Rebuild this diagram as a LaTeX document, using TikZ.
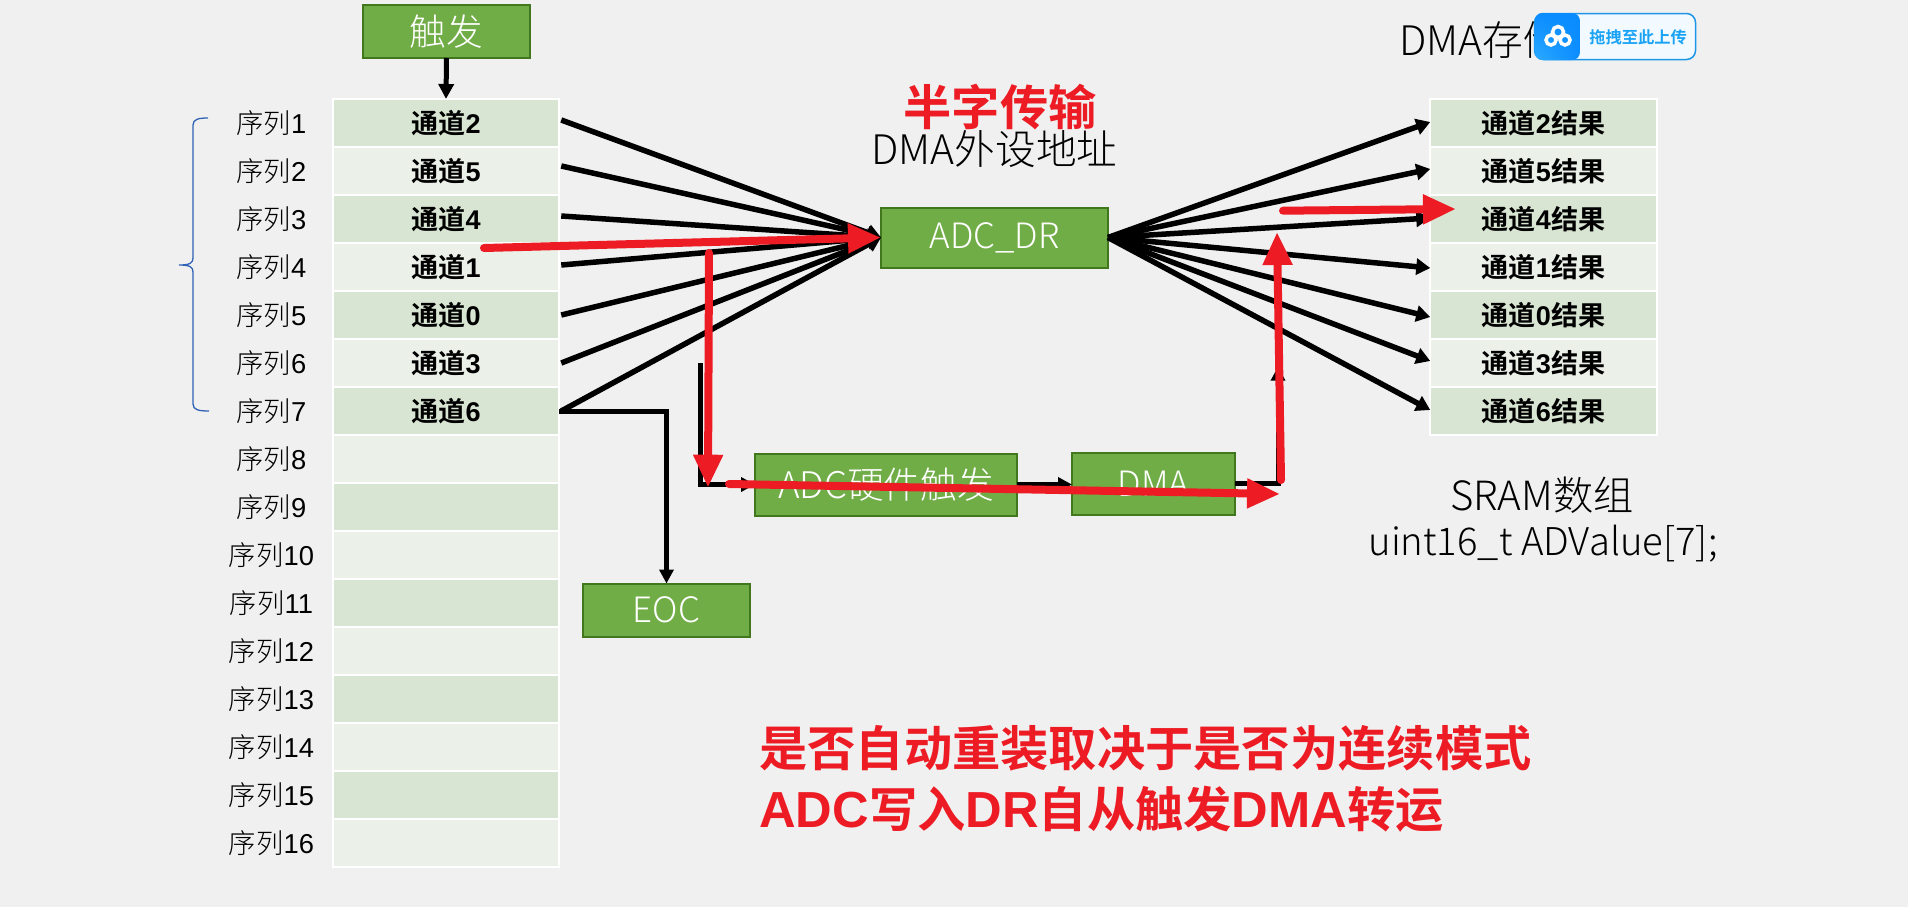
\documentclass[tikz,border=0pt]{standalone}
\usepackage{fontspec}
\usetikzlibrary{arrows.meta,shadings}
\setmainfont{Noto Sans CJK SC Light}
\newfontfamily\boldf{Noto Sans CJK SC Bold}
\newfontfamily\arialb{Liberation Sans Bold}
\newfontfamily\ariall{Liberation Sans}
\newfontfamily\latb[Scale=1.05]{Liberation Sans Bold}
\def\px{0.75pt}
\definecolor{bgc}{HTML}{F0F0F0}
\definecolor{cella}{HTML}{D9E5D3}
\definecolor{cellb}{HTML}{EBF0E9}
\definecolor{greenf}{HTML}{70AD47}
\definecolor{greend}{HTML}{41781E}
\definecolor{redc}{HTML}{ED1C24}
\definecolor{bracec}{HTML}{2F62B5}
\definecolor{btnl}{HTML}{1E96E8}
\definecolor{btnt}{HTML}{1AA3F5}
\definecolor{btnf}{HTML}{F3FAFF}
\definecolor{icona}{HTML}{2CAAFF}
\definecolor{iconb}{HTML}{0A8CFF}
\tikzset{
  cellbox/.style={draw=white,line width=2*\px,minimum width=226.5*\px,minimum height=48.05*\px,inner sep=0pt,outer sep=0pt,font=\fontsize{20.3pt}{24pt}\selectfont},
  seqlabel/.style={inner sep=0pt,font=\fontsize{20.5pt}{24pt}\selectfont},
  greenbox/.style={draw=greend,fill=greenf,line width=2*\px,inner sep=0pt,outer sep=0pt,text=white,font=\fontsize{26.2pt}{30pt}\selectfont},
  bigtext/.style={inner sep=0pt,font=\fontsize{30.5pt}{36pt}\selectfont},
  redtext/.style={inner sep=0pt,text=redc,font=\fontsize{36.2pt}{44pt}\selectfont\boldf},
  fan/.style={line width=5.5*\px,-{Triangle[length=14*\px,width=16*\px]}},
  elbow/.style={line width=5*\px,-{Triangle[length=14*\px,width=14*\px]},line join=miter},
  redarrow/.style={draw=redc,line width=8*\px,line cap=round,-{Triangle[length=33*\px,width=28*\px]}},
}
\newcommand{\bcell}[2]{{\boldf #1}{\arialb #2}}
\newcommand{\lowr}[1]{\raisebox{-2pt}{#1}}
\begin{document}
\begin{tikzpicture}[x=\px,y=-\px]
\useasboundingbox (0,0) rectangle (1908,907);
\fill[bgc] (0,0) rectangle (1908,907);
% left table
\foreach \i/\n in {1/2,2/5,3/4,4/1,5/0,6/3,7/6,8/,9/,10/,11/,12/,13/,14/,15/,16/}{
  \pgfmathtruncatemacro{\odd}{mod(\i,2)}
  \ifnum\odd=1 \def\fc{cella}\else \def\fc{cellb}\fi
  \ifx\n\empty
    \node[cellbox,fill=\fc] (c\i) at (446,{99+(\i-0.5)*48}) {};
  \else
    \node[cellbox,fill=\fc] (c\i) at (446,{99+(\i-0.5)*48}) {\bcell{通道}{\n}};
  \fi
  \node[seqlabel] (s\i) at (271.5,{99+(\i-0.5)*48}) {序列{\ariall\i}};
}
% right table
\foreach \i/\n in {1/2,2/5,3/4,4/1,5/0,6/3,7/6}{
  \pgfmathtruncatemacro{\odd}{mod(\i,2)}
  \ifnum\odd=1 \def\fc{cella}\else \def\fc{cellb}\fi
  \node[cellbox,fill=\fc] (r\i) at (1543.5,{99+(\i-0.5)*48}) {{\boldf 通道}{\arialb\n}{\boldf 结果}};
}
% boxes
\node[greenbox,minimum width=167*\px,minimum height=53*\px,font=\fontsize{27.5pt}{30pt}\selectfont] (trig) at (446.5,31.5) {\lowr{触发}};
\node[greenbox,minimum width=227*\px,minimum height=60*\px] (dr) at (994.5,237.5) {\lowr{ADC\_DR}};
\node[greenbox,minimum width=262*\px,minimum height=62*\px,font=\fontsize{27.5pt}{30pt}\selectfont] (hw) at (886,484.5) {\lowr{ADC硬件触发}};
\node[greenbox,minimum width=163*\px,minimum height=62*\px] (dma) at (1153.5,483.5) {\lowr{DMA}};
\node[greenbox,minimum width=167*\px,minimum height=53*\px] (eoc) at (666.5,610) {\lowr{EOC}};
% texts
\node[bigtext] (t1) at (994.5,149) {DMA外设地址};
\node[bigtext,anchor=west] (t2) at (1399,40) {DMA存储};
\node[bigtext,font=\fontsize{30.2pt}{36pt}\selectfont] (t3) at (1542,495) {SRAM数组};
\node[bigtext,font=\fontsize{28.7pt}{36pt}\selectfont] (t4) at (1543,544) {uint16\_t ADValue[7];};
\node[redtext] (t5) at (1000,107) {半字传输};
\node[redtext,anchor=west] (t6) at (759,748) {是否自动重装取决于是否为连续模式};
\node[redtext,anchor=west] (t7) at (759,809) {{\latb ADC}写入{\latb DR}自从触发{\latb DMA}转运};
% brace
\draw[bracec,line width=1.3*\px] (208,118) .. controls (199,118) and (193,119) .. (193,125)
  -- (193,258) .. controls (193,263) and (190,265) .. (179,265)
  .. controls (190,265) and (193,267) .. (193,272)
  -- (193,404) .. controls (193,410) and (199,411) .. (209,411);
% black connectors
\draw[line width=5*\px,-{Triangle[length=15*\px,width=15*\px]}] (trig.south) -- (c1.north);
\foreach \i/\s in {1/3,2/5,3/3,4/2,5/0,6/0,7/0}
  \draw[fan] ([xshift=2*\px,yshift=\s*\px]c\i.east) -- (dr.west);
\foreach \i/\s in {1/1,2/2,3/1,4/-1,5/-2,6/2,7/1}
  \draw[fan] (dr.east) -- ([yshift=\s*\px]r\i.west);
\draw[elbow] (c7.east) -| (eoc.north);
\coordinate (k1) at (700.7,363);
\draw[elbow] (k1) |- (hw.west);
\draw[elbow] (hw.east) -- (hw.east -| dma.west);
\coordinate (k2) at (1278,366.7);
\draw[elbow] (dma.east) -| (k2);
% red arrows
\coordinate (a1) at (484,248);
\coordinate (a2) at (709,253);
\coordinate (a3) at (708,487.7);
\coordinate (a4) at (729,484);
\coordinate (a5) at (1280,494);
\coordinate (a6) at (1281,480);
\coordinate (a7) at (1277,232);
\coordinate (a8) at (1283,210.7);
\coordinate (a9) at (1456,209);
\draw[redarrow] (a1) -- (dr.west);
\draw[redarrow] (a2) -- (a3);
\draw[redarrow] (a4) -- (a5);
\draw[redarrow] (a6) -- (a7);
\draw[redarrow] (a8) -- (a9);
% upload button
\node[draw=btnl,fill=btnf,line width=1.5*\px,rounded corners=9*\px,minimum width=161*\px,minimum height=46*\px,inner sep=0pt,outer sep=0pt] (btn) at (1615,36.5) {};
\shade[lower left=icona,lower right=iconb,upper left=iconb,upper right=iconb,rounded corners=8*\px] (1534.5,13) rectangle (1580,60);
\node[anchor=west,inner sep=0pt,text=btnt,font=\fontsize{12.2pt}{14pt}\selectfont\boldf] (btnlabel) at (1589,37) {拖拽至此上传};
\foreach \cx/\cy/\rr in {1558/32/5.5,1551/40/5,1565/40/5}
  \draw[white,line width=3.5*\px] (\cx,\cy) circle [radius=\rr*\px];
\end{tikzpicture}
\end{document}
